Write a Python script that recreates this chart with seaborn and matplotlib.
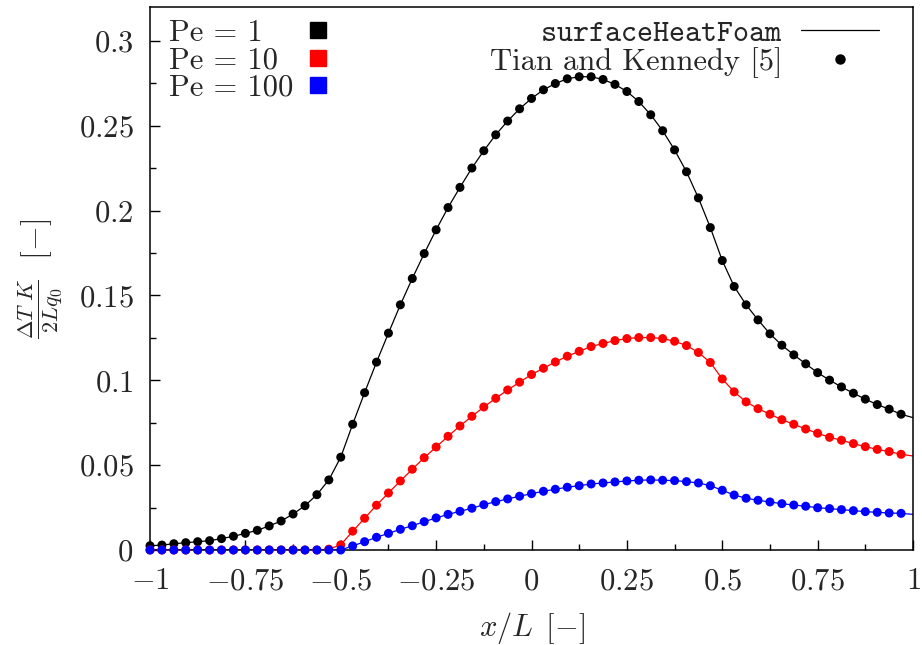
import numpy as np
import pandas as pd
import matplotlib
matplotlib.use("Agg")
import matplotlib.pyplot as plt
import seaborn as sns
from matplotlib.ticker import FixedLocator, FuncFormatter
from matplotlib.lines import Line2D

# ---------------- data ----------------
x_pts = list(np.linspace(-1.0, 0.96875, 64))
x_end = 1.0

pe1 = [0.0025, 0.0029, 0.0037, 0.0043, 0.0049, 0.0055, 0.0067, 0.0081, 0.0098, 0.0116,
       0.0142, 0.0171, 0.0212, 0.0261, 0.0326, 0.0413, 0.0547, 0.0741, 0.0927, 0.1107,
       0.1278, 0.1445, 0.1600, 0.1747, 0.1887, 0.2018, 0.2137, 0.2251, 0.2353, 0.2447,
       0.2528, 0.2600, 0.2661, 0.2712, 0.2749, 0.2777, 0.2789, 0.2789, 0.2773, 0.2744,
       0.2702, 0.2643, 0.2565, 0.2471, 0.2358, 0.2229, 0.2075, 0.1900, 0.1706, 0.1553,
       0.1445, 0.1356, 0.1274, 0.1207, 0.1150, 0.1097, 0.1045, 0.1001, 0.0961, 0.0924,
       0.0889, 0.0857, 0.0830, 0.0800]
pe1_end = 0.0780

pe10 = [0.0, 0.0, 0.0, 0.0, 0.0, 0.0, 0.0, 0.0, 0.0, 0.0,
        0.0, 0.0, 0.0, 0.0, 0.0, 0.0005, 0.0030, 0.0111, 0.0187, 0.0264,
        0.0336, 0.0407, 0.0476, 0.0544, 0.0607, 0.0670, 0.0731, 0.0788, 0.0843, 0.0894,
        0.0943, 0.0989, 0.1034, 0.1071, 0.1108, 0.1142, 0.1171, 0.1199, 0.1217, 0.1234,
        0.1246, 0.1252, 0.1252, 0.1246, 0.1230, 0.1205, 0.1164, 0.1105, 0.1008, 0.0932,
        0.0873, 0.0833, 0.0800, 0.0768, 0.0741, 0.0713, 0.0688, 0.0664, 0.0647, 0.0627,
        0.0609, 0.0593, 0.0580, 0.0564]
pe10_end = 0.0554

pe100 = [0.0, 0.0, 0.0, 0.0, 0.0, 0.0, 0.0, 0.0, 0.0, 0.0,
         0.0, 0.0, 0.0, 0.0, 0.0, 0.0, 0.0, 0.0024, 0.0049, 0.0075,
         0.0098, 0.0122, 0.0143, 0.0167, 0.0189, 0.0210, 0.0228, 0.0246, 0.0267, 0.0285,
         0.0301, 0.0317, 0.0332, 0.0346, 0.0358, 0.0370, 0.0379, 0.0389, 0.0395, 0.0401,
         0.0407, 0.0411, 0.0413, 0.0411, 0.0409, 0.0403, 0.0395, 0.0379, 0.0352, 0.0324,
         0.0305, 0.0293, 0.0283, 0.0273, 0.0265, 0.0258, 0.0249, 0.0244, 0.0238, 0.0232,
         0.0226, 0.0222, 0.0218, 0.0216]
pe100_end = 0.0210

series_names = ["Pe = 1", "Pe = 10", "Pe = 100"]
series_vals = [pe1, pe10, pe100]
series_end = [pe1_end, pe10_end, pe100_end]
colors = ["#000000", "#ff0000", "#0000ff"]

x_ticks = [-1, -0.75, -0.5, -0.25, 0, 0.25, 0.5, 0.75, 1]
y_ticks = [0, 0.05, 0.1, 0.15, 0.2, 0.25, 0.3]

# ---------------- tables ----------------
pts_rows, line_rows = [], []
for name, vals, end in zip(series_names, series_vals, series_end):
    for xv, yv in zip(x_pts, vals):
        pts_rows.append((name, xv, yv))
        line_rows.append((name, xv, yv))
    line_rows.append((name, x_end, end))
df_pts = pd.DataFrame(pts_rows, columns=["Pe", "x", "v"])
df_line = pd.DataFrame(line_rows, columns=["Pe", "x", "v"])
palette = dict(zip(series_names, colors))

# ---------------- style ----------------
FS = 22
sns.set_style("ticks")
plt.rcParams.update({
    "font.family": ["cmr10", "DejaVu Serif"],
    "mathtext.fontset": "cm",
    "axes.formatter.use_mathtext": True,
    "axes.unicode_minus": True,
    "font.size": FS,
    "xtick.labelsize": FS,
    "ytick.labelsize": FS,
    "axes.linewidth": 1.1,
})

fig = plt.figure(figsize=(9.22, 6.45), dpi=100)
ax = fig.add_axes([150 / 922, 1 - 550 / 645, (913 - 150) / 922, (550 - 7) / 645])

sns.lineplot(data=df_line, x="x", y="v", hue="Pe", palette=palette, ax=ax,
             linewidth=0.9, legend=False, sort=False, estimator=None)
sns.scatterplot(data=df_pts, x="x", y="v", hue="Pe", palette=palette, ax=ax,
                s=42, edgecolor="none", linewidth=0, legend=False,
                clip_on=False, zorder=3)

ax.set_xlim(-1, 1)
ax.set_ylim(0, 0.32)

fmt = FuncFormatter(lambda v, p: "$%s$" % ("%g" % v))
ax.xaxis.set_major_locator(FixedLocator(x_ticks))
ax.yaxis.set_major_locator(FixedLocator(y_ticks))
ax.xaxis.set_minor_locator(FixedLocator(np.arange(-1, 1.01, 0.125)))
ax.yaxis.set_minor_locator(FixedLocator(np.arange(0, 0.32, 0.025)))
ax.xaxis.set_major_formatter(fmt)
ax.yaxis.set_major_formatter(fmt)
ax.tick_params(which="both", direction="in", top=False, right=False, width=1.0,
               color="black")
ax.tick_params(which="major", length=7)
ax.tick_params(which="minor", length=4)
ax.tick_params(axis="x", which="major", pad=13, labelsize=FS)
ax.tick_params(axis="y", which="major", pad=12, labelsize=FS)
for s in ax.spines.values():
    s.set_color("black")

ax.set_xlabel(r"$x/L\ \,[{-}]$", fontsize=FS)
ax.set_ylabel(r"$\frac{\Delta T\ K}{2Lq_0}\ \ [{-}]$", fontsize=FS + 1)
ax.xaxis.set_label_coords(0.5, -0.11)
ax.yaxis.set_label_coords(-0.112, 0.5)

# legends
h1 = [Line2D([], [], marker="s", color=c, linestyle="none", markersize=12) for c in colors]
leg1 = ax.legend(h1, series_names, loc="upper left", bbox_to_anchor=(0.025, 0.977),
                 frameon=False, markerfirst=False, handlelength=1.0, handletextpad=0.3,
                 labelspacing=0.0, borderpad=0, borderaxespad=0, fontsize=FS)
ax.add_artist(leg1)
h2 = [Line2D([], [], color="black", linewidth=0.9),
      Line2D([], [], marker="o", color="black", linestyle="none", markersize=6.5)]
leg2 = ax.legend(h2, [r"$\mathtt{surfaceHeatFoam}$", "Tian and Kennedy [5]"],
                 loc="upper right", bbox_to_anchor=(0.955, 0.977), frameon=False,
                 markerfirst=False, handlelength=2.55, handletextpad=0.6,
                 labelspacing=0.0, borderpad=0, borderaxespad=0, fontsize=FS)

# left legend: left-aligned labels, squares in one column
fig.canvas.draw()
renderer = fig.canvas.get_renderer()
col = leg1._legend_handle_box.get_children()[0]
col.align = "left"
items = col.get_children()
widths = [it.get_children()[0].get_window_extent(renderer).width for it in items]
wmax = max(widths)
for it, w in zip(items, widths):
    it.sep = it.sep + (wmax - w) * 72.0 / fig.dpi

fig.savefig("out.png", dpi=100)
